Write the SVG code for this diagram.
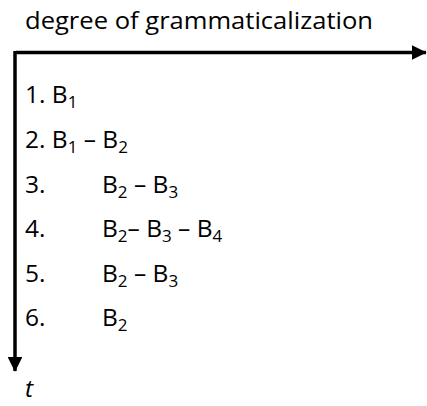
<svg xmlns="http://www.w3.org/2000/svg" width="427" height="406" viewBox="0 0 427 406">
<style>
text{font-family:"Open Sans","Liberation Sans",sans-serif;font-size:24.5px;fill:#000}
.s{font-size:17px}
</style>
<defs>
<marker id="ah" markerWidth="4.2" markerHeight="4.2" refX="4" refY="2.1" orient="auto" markerUnits="strokeWidth"><path d="M0,0 L4.2,2.1 L0,4.2 Z" fill="#000"/></marker>
</defs>
<g id="connectors" stroke="#000" stroke-width="3.5" fill="none">
<line x1="16" y1="52.5" x2="426" y2="52.5" marker-end="url(#ah)"/>
<line x1="15" y1="51" x2="15" y2="371" marker-end="url(#ah)"/>
</g>
<g id="title"><text x="25" y="29" textLength="348" lengthAdjust="spacingAndGlyphs">degree of grammaticalization</text></g>
<g id="row1"><text x="25" y="103">1. B<tspan class="s" dy="5">1</tspan></text></g>
<g id="row2"><text x="25" y="148">2. B<tspan class="s" dy="5">1</tspan><tspan dy="-5"> – B</tspan><tspan class="s" dy="5">2</tspan></text></g>
<g id="row3"><text x="25" y="193">3.</text><text x="102" y="193">B<tspan class="s" dy="5">2</tspan><tspan dy="-5"> – B</tspan><tspan class="s" dy="5">3</tspan></text></g>
<g id="row4"><text x="25" y="237">4.</text><text x="102" y="237">B<tspan class="s" dy="5">2</tspan><tspan dy="-5">– B</tspan><tspan class="s" dy="5">3</tspan><tspan dy="-5"> – B</tspan><tspan class="s" dy="5">4</tspan></text></g>
<g id="row5"><text x="25" y="282">5.</text><text x="102" y="282">B<tspan class="s" dy="5">2</tspan><tspan dy="-5"> – B</tspan><tspan class="s" dy="5">3</tspan></text></g>
<g id="row6"><text x="25" y="326">6.</text><text x="102" y="326">B<tspan class="s" dy="5">2</tspan></text></g>
<g id="t"><text x="25" y="397" font-style="italic">t</text></g>
</svg>
